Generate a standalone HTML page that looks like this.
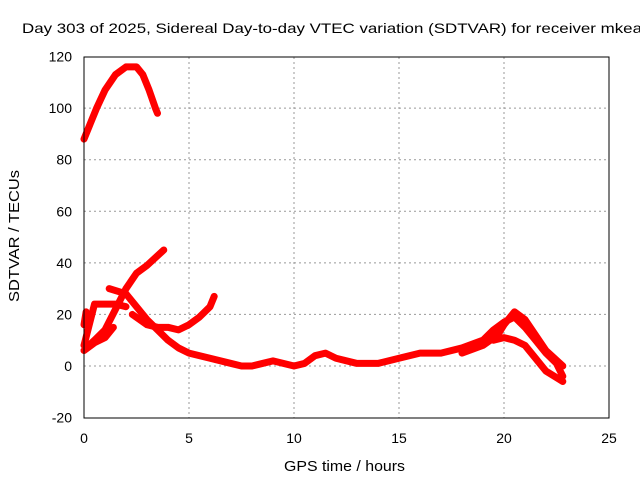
<!DOCTYPE html>
<html><head><meta charset="utf-8"><style>
body{margin:0;background:#fff}
svg{display:block;font-family:"Liberation Sans",sans-serif}
</style></head><body>
<svg id="c" width="640" height="480">
<text x="22" y="33" font-size="14" textLength="620" lengthAdjust="spacingAndGlyphs">Day 303 of 2025, Sidereal Day-to-day VTEC variation (SDTVAR) for receiver mkea</text>
<text x="284" y="471" font-size="15" textLength="121" lengthAdjust="spacingAndGlyphs">GPS time / hours</text>
<text transform="translate(19,302) rotate(-90)" font-size="15" textLength="132" lengthAdjust="spacingAndGlyphs">SDTVAR / TECUs</text>
<g id="grid"></g><g id="series"></g>
<rect x="84" y="57" width="525" height="361" fill="none" stroke="#000"/>
</svg>
<script>
const xTicks=[0,5,10,15,20,25];
const yTicks=[-20,0,20,40,60,80,100,120];
const arc=[[0,88],[0.3,94],[0.6,100],[1,107],[1.5,113],[2,116],[2.5,116],[2.8,113],[3.1,107],[3.4,100],[3.5,98]];
const rising=[[0.1,7],[0.5,10],[1,14],[1.5,22],[2,30],[2.5,36],[3,39],[3.4,42],[3.8,45]];
const mainTail=[[1.2,30],[2,28],[2.5,23],[3,18],[3.5,14],[4,10],[4.5,7],[5,5],[6,3],[7,1],[7.5,0],[8,0],[8.5,1],[9,2],[10,0],[10.5,1],[11,4],[11.5,5],[12,3],[13,1],[14,1],[15,3],[16,5],[17,5],[18,7],[19,10],[19.5,14],[20,17],[20.5,19],[21,15],[21.5,10],[22,5],[22.5,1],[22.8,-4]];
const hump=[[2.3,20],[3,16],[3.5,15],[4,15],[4.5,14],[5,16],[5.5,19],[6,23],[6.2,27]];
const leftSpike=[[0,8],[0.5,24],[1,24],[1.5,24],[2,23]];
const leftBase=[[0,6],[0.5,9],[1,11],[1.4,15]];
const leftTick=[[0,16],[0.1,21]];
const band2=[[18,5],[19,8],[19.7,12],[20,16],[20.5,21],[21,18],[21.5,12],[22,6],[22.8,0]];
const band3=[[19.5,10],[20,11],[20.5,10],[21,8],[21.5,3],[22,-2],[22.8,-6]];
const allSeries=[arc,rising,mainTail,hump,leftSpike,leftBase,leftTick,band2,band3];
const X=v=>84+v*21, Y=v=>366-v*361/140;
const NS='http://www.w3.org/2000/svg';
const g=document.getElementById('grid'), s=document.getElementById('series');
function mk(t,a,p){const e=document.createElementNS(NS,t);for(const k in a)e.setAttribute(k,a[k]);p.appendChild(e);return e;}
xTicks.forEach(v=>{
 if(v>0&&v<25){const l=mk('line',{x1:X(v),x2:X(v),y1:57,y2:418,stroke:'#999','stroke-dasharray':'2,3'},g);
 
 }
 const t=mk('text',{x:X(v),y:443,'font-size':14,'text-anchor':'middle'},g);t.textContent=v;
 
 
});
yTicks.forEach(v=>{
 if(v>-20&&v<120){const l=mk('line',{x1:84,x2:609,y1:Y(v),y2:Y(v),stroke:'#999','stroke-dasharray':'2,3'},g);
 
 }
 const t=mk('text',{x:72,y:Y(v)+5,'font-size':14,'text-anchor':'end'},g);t.textContent=v;
 
 
});
allSeries.forEach((d,i)=>{
 const p=mk('polyline',{points:d.map(q=>X(q[0])+','+Y(q[1])).join(' '),fill:'none',stroke:'#f00','stroke-width':7,'stroke-linejoin':'round','stroke-linecap':'round'},s);
 
 
});
</script>
</body></html>
